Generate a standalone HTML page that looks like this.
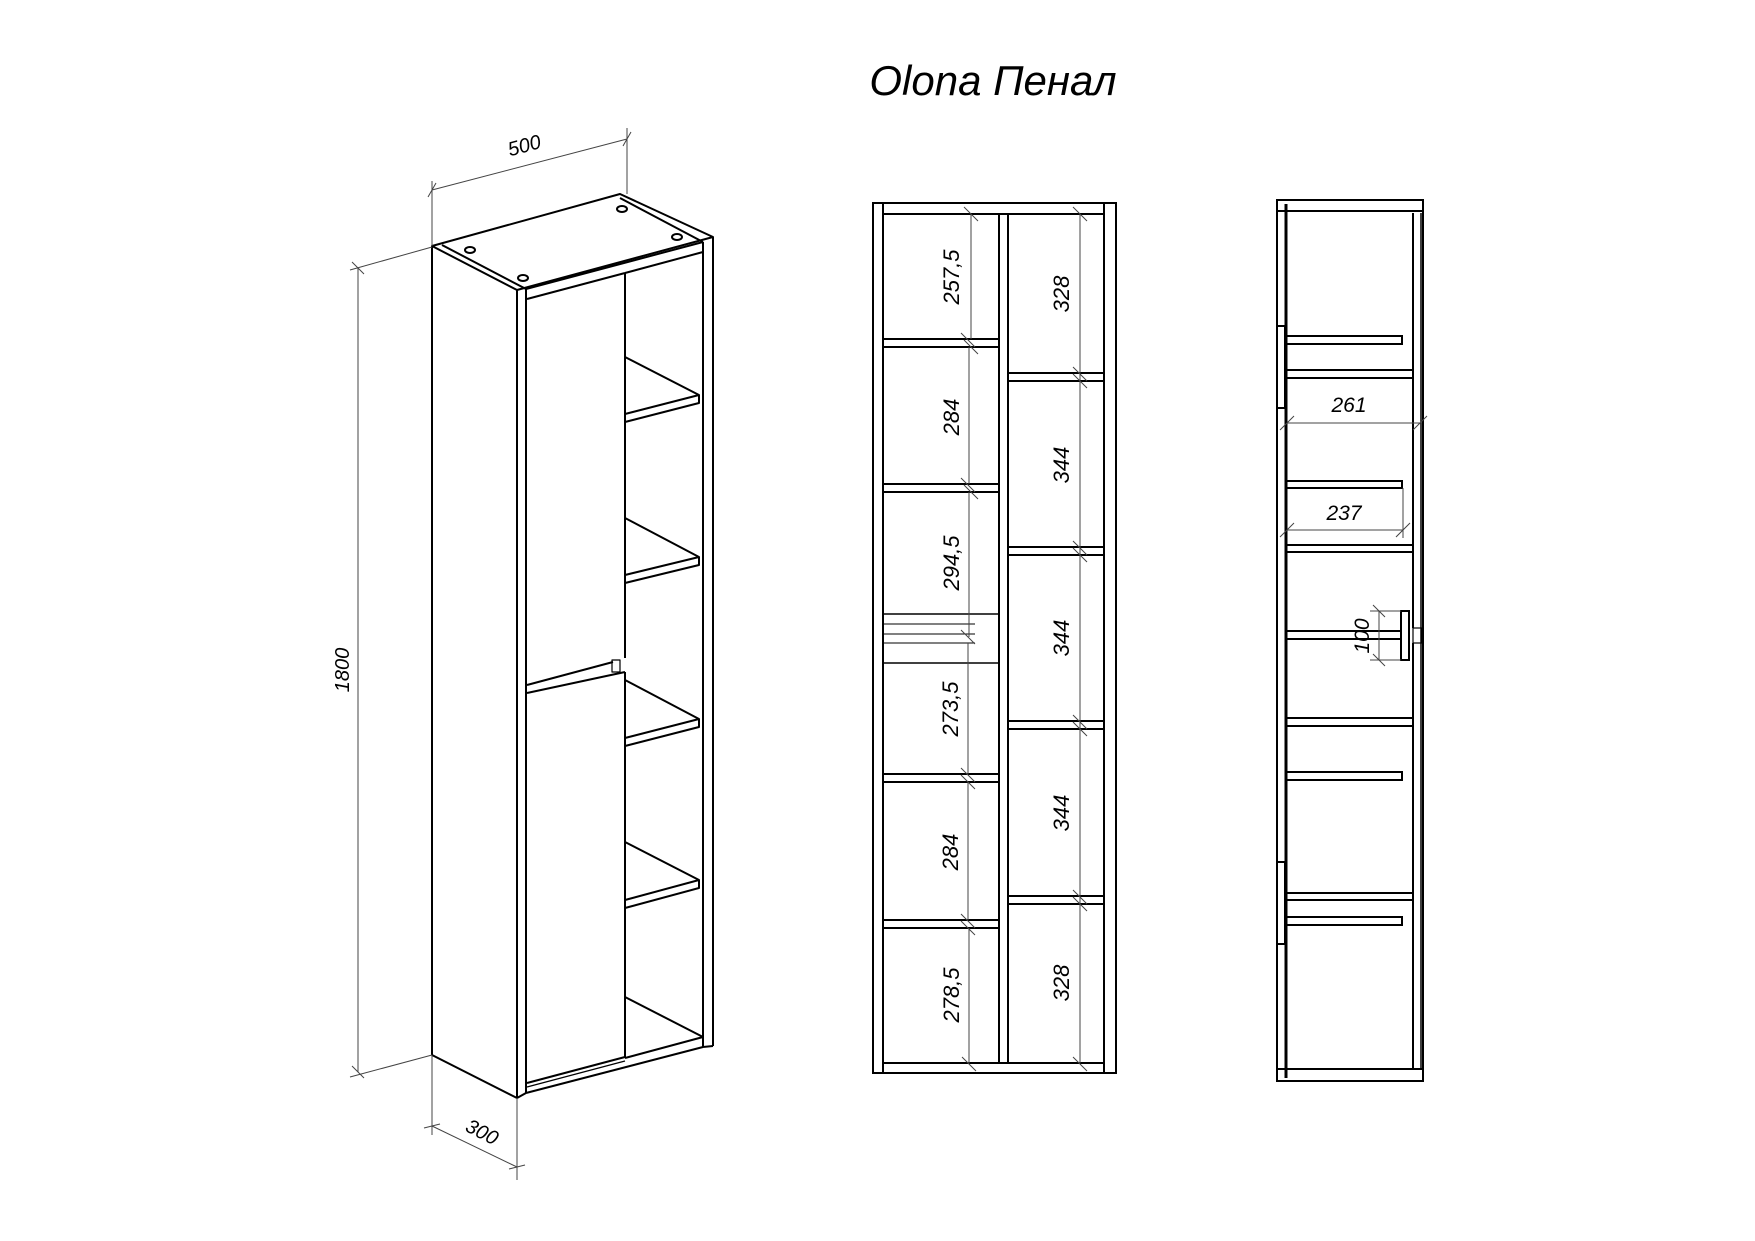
<!DOCTYPE html>
<html><head><meta charset="utf-8"><style>
html,body{margin:0;padding:0;background:#fff}
svg{display:block}
text{font-family:"Liberation Sans",sans-serif;fill:#000}
</style></head><body>
<svg width="1755" height="1241" viewBox="0 0 1755 1241" xmlns="http://www.w3.org/2000/svg">
<rect width="1755" height="1241" fill="#fff"/>
<text x="993" y="95" font-size="42" font-style="italic" text-anchor="middle">Olona Пенал</text>

<!-- ===== 3D view ===== -->
<g stroke="#000" stroke-width="2" fill="none" stroke-linejoin="round">
  <polygon points="432,246 517,290 713,237 620,194" fill="#fff"/>
  <line x1="442" y1="245" x2="526" y2="289"/>
  <line x1="526" y1="289" x2="703" y2="242"/>
  <line x1="620" y1="198" x2="703" y2="242"/>
  <line x1="527" y1="299" x2="625" y2="273"/>
  <line x1="625" y1="273" x2="703" y2="252"/>
  <line x1="432" y1="246" x2="432" y2="1055"/>
  <line x1="517" y1="290" x2="517" y2="1098"/>
  <line x1="526" y1="289" x2="526" y2="1093"/>
  <line x1="432" y1="1055" x2="517" y2="1098"/>
  <line x1="703" y1="242" x2="703" y2="1047"/>
  <line x1="713" y1="237" x2="713" y2="1046"/>
  <line x1="703" y1="1047" x2="713" y2="1046"/>
  <line x1="517" y1="1098" x2="526" y2="1093"/>
  <line x1="526" y1="1093" x2="703" y2="1047"/>
  <line x1="625" y1="1058" x2="703" y2="1037"/>
  <line x1="625" y1="997" x2="703" y2="1037"/>
  <line x1="625" y1="273" x2="625" y2="658"/>
  <line x1="527" y1="685" x2="613" y2="662"/>
  <line x1="527" y1="693" x2="625" y2="672"/>
  <line x1="625" y1="672" x2="625" y2="1057"/>
  <line x1="527" y1="1083" x2="625" y2="1057"/>
  <line x1="527" y1="1087" x2="625" y2="1061" stroke-width="1.2"/>
  <rect x="612" y="660" width="8" height="12" stroke-width="1.2"/>
  <g>
    <polyline points="625,357 699,395 699,403 625,422"/><line x1="625" y1="414" x2="699" y2="395"/>
    <polyline points="625,518 699,557 699,565 625,583"/><line x1="625" y1="575" x2="699" y2="557"/>
    <polyline points="625,680 699,719 699,727 625,746"/><line x1="625" y1="738" x2="699" y2="719"/>
    <polyline points="625,842 699,880 699,888 625,908"/><line x1="625" y1="900" x2="699" y2="880"/>
  </g>
  <ellipse cx="470" cy="250" rx="5" ry="3"/>
  <ellipse cx="523" cy="278" rx="5" ry="3"/>
  <ellipse cx="622" cy="209" rx="5" ry="3"/>
  <ellipse cx="677" cy="237" rx="5" ry="3"/>
</g>
<g stroke="#444" stroke-width="1" fill="none">
  <line x1="358" y1="268" x2="358" y2="1072"/>
  <line x1="350" y1="270" x2="432" y2="247"/>
  <line x1="350" y1="1077" x2="432" y2="1055"/>
  <line x1="352" y1="262" x2="364" y2="274"/>
  <line x1="352" y1="1066" x2="364" y2="1078"/>
  <line x1="432" y1="181" x2="432" y2="246"/>
  <line x1="627" y1="128" x2="627" y2="194"/>
  <line x1="432" y1="190" x2="627" y2="139"/>
  <line x1="428" y1="197" x2="436" y2="183"/>
  <line x1="623" y1="146" x2="631" y2="132"/>
  <line x1="432" y1="1055" x2="432" y2="1135"/>
  <line x1="517" y1="1098" x2="517" y2="1180"/>
  <line x1="432" y1="1126" x2="517" y2="1167"/>
  <line x1="424" y1="1128" x2="440" y2="1124"/>
  <line x1="509" y1="1169" x2="525" y2="1165"/>
</g>
<text x="0" y="0" font-size="20" font-style="italic" text-anchor="middle" transform="translate(349,670) rotate(-90)">1800</text>
<text x="0" y="0" font-size="20" font-style="italic" text-anchor="middle" transform="translate(526,152) rotate(-15)">500</text>
<text x="0" y="0" font-size="20" font-style="italic" text-anchor="middle" transform="translate(479,1138) rotate(27)">300</text>

<!-- ===== middle view ===== -->
<g stroke="#000" stroke-width="2" fill="none">
  <rect x="873" y="203" width="10" height="870"/>
  <rect x="1104" y="203" width="12" height="870"/>
  <rect x="883" y="203" width="221" height="11"/>
  <rect x="883" y="1063" width="221" height="10"/>
  <rect x="999" y="214" width="9" height="849"/>
  <rect x="883" y="339" width="116" height="8"/>
  <rect x="883" y="484" width="116" height="8"/>
  <rect x="883" y="774" width="116" height="8"/>
  <rect x="883" y="920" width="116" height="8"/>
  <line x1="883" y1="614" x2="999" y2="614" stroke-width="1.5"/>
  <line x1="883" y1="663" x2="999" y2="663" stroke-width="1.5"/>
  <line x1="883" y1="624" x2="975" y2="624" stroke-width="1"/>
  <line x1="883" y1="634" x2="975" y2="634" stroke-width="1"/>
  <line x1="883" y1="643" x2="975" y2="643" stroke-width="1"/>
  <rect x="1008" y="373" width="96" height="8"/>
  <rect x="1008" y="547" width="96" height="8"/>
  <rect x="1008" y="721" width="96" height="8"/>
  <rect x="1008" y="896" width="96" height="8"/>
</g>
<g stroke="#444" stroke-width="1" fill="none">
  <line x1="971" y1="214" x2="971" y2="339"/>
  <line x1="969" y1="347" x2="969" y2="484"/>
  <line x1="969" y1="492" x2="969" y2="637"/>
  <line x1="968" y1="643" x2="968" y2="774"/>
  <line x1="968" y1="782" x2="968" y2="920"/>
  <line x1="969" y1="928" x2="969" y2="1063"/>
  <line x1="1080" y1="214" x2="1080" y2="1063"/>
  <path d="M964 207l14 14M961 333l14 14M964 340l14 14M961 478l14 14M964 485l14 14M961 630l14 14M961 768l14 14M961 775l14 14M961 914l14 14M961 921l14 14M962 1057l14 14"/>
  <path d="M1073 207l14 14M1073 367l14 14M1073 374l14 14M1073 541l14 14M1073 548l14 14M1073 715l14 14M1073 722l14 14M1073 890l14 14M1073 897l14 14M1073 1057l14 14"/>
</g>
<g font-size="22" font-style="italic" text-anchor="middle">
  <text transform="translate(959,277) rotate(-90)">257,5</text>
  <text transform="translate(959,417) rotate(-90)">284</text>
  <text transform="translate(959,563) rotate(-90)">294,5</text>
  <text transform="translate(958,709) rotate(-90)">273,5</text>
  <text transform="translate(958,852) rotate(-90)">284</text>
  <text transform="translate(959,995) rotate(-90)">278,5</text>
  <text transform="translate(1069,294) rotate(-90)">328</text>
  <text transform="translate(1069,465) rotate(-90)">344</text>
  <text transform="translate(1069,638) rotate(-90)">344</text>
  <text transform="translate(1069,813) rotate(-90)">344</text>
  <text transform="translate(1069,983) rotate(-90)">328</text>
</g>

<!-- ===== right view ===== -->
<g stroke="#000" stroke-width="2" fill="none">
  <rect x="1277" y="200" width="146" height="881"/>
  <line x1="1277" y1="211" x2="1423" y2="211"/>
  <line x1="1277" y1="1069" x2="1423" y2="1069"/>
  <line x1="1286" y1="204" x2="1286" y2="1078" stroke-width="3"/>
  <line x1="1413" y1="213" x2="1413" y2="628"/>
  <line x1="1413" y1="643" x2="1413" y2="1069"/>
  <line x1="1421" y1="213" x2="1421" y2="1069" stroke-width="1.5"/>
  <rect x="1413" y="628" width="9" height="15" stroke-width="1.2"/>
  <rect x="1277" y="326" width="8" height="82"/>
  <rect x="1277" y="862" width="8" height="82"/>
  <rect x="1286" y="370" width="127" height="8"/>
  <rect x="1286" y="545" width="127" height="7"/>
  <rect x="1286" y="631" width="115" height="8"/>
  <rect x="1286" y="718" width="127" height="8"/>
  <rect x="1286" y="893" width="127" height="7"/>
  <rect x="1286" y="336" width="116" height="8"/>
  <rect x="1286" y="481" width="116" height="7"/>
  <rect x="1286" y="772" width="116" height="8"/>
  <rect x="1286" y="917" width="116" height="8"/>
  <rect x="1401" y="611" width="8" height="49"/>
</g>
<g stroke="#444" stroke-width="1" fill="none">
  <line x1="1287" y1="423" x2="1420" y2="423"/>
  <line x1="1287" y1="530" x2="1403" y2="530"/>
  <line x1="1403" y1="488" x2="1403" y2="538"/>
  <line x1="1379" y1="611" x2="1379" y2="660"/>
  <line x1="1370" y1="611" x2="1401" y2="611"/>
  <line x1="1370" y1="660" x2="1401" y2="660"/>
  <path d="M1280 430l14 -14M1413 430l14 -14M1280 537l14 -14M1396 537l14 -14M1373 605l12 12M1373 654l12 12"/>
</g>
<g font-size="21" font-style="italic" text-anchor="middle">
  <text x="1349" y="412">261</text>
  <text x="1344" y="520">237</text>
  <text transform="translate(1369,636) rotate(-90)">100</text>
</g>
</svg>
</body></html>
